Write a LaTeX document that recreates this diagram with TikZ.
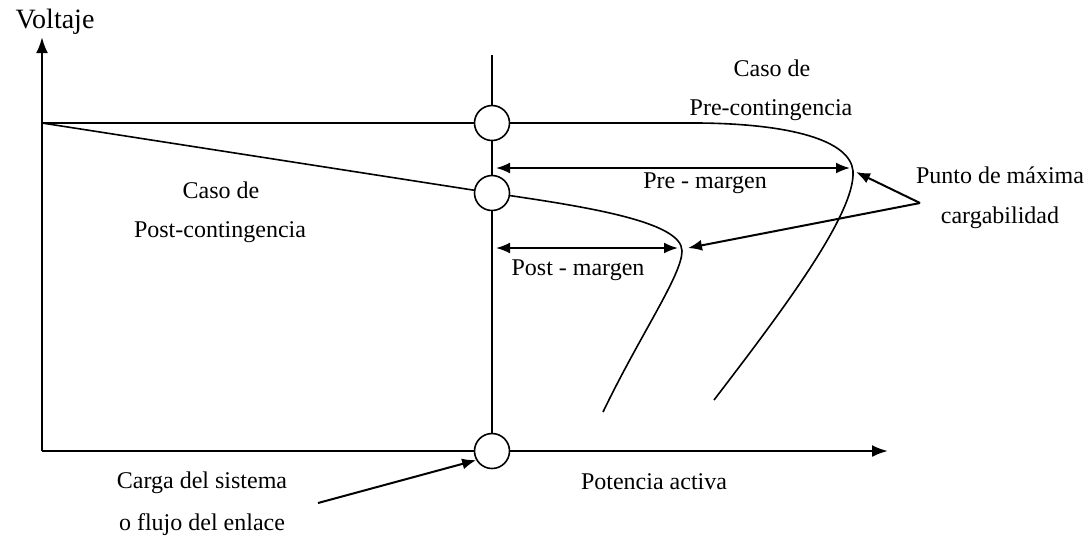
\documentclass[tikz,border=0pt]{standalone}
\usepackage{fontspec}
\setmainfont{Liberation Serif}
\usetikzlibrary{arrows.meta}
\begin{document}
\begin{tikzpicture}[x=0.5pt,y=-0.5pt,
  lbl/.style={font=\fontsize{12}{14}\selectfont, inner sep=0pt},
  ax/.style={line width=1.2pt},
  crv/.style={line width=0.8pt},
  tip/.style={line width=1pt,-{Latex[length=7pt,width=5.5pt]}},
  dtip/.style={line width=1pt,{Latex[length=7pt,width=5.5pt]}-{Latex[length=7pt,width=5.5pt]}},
  ring/.style={circle, draw, fill=white, line width=0.8pt, minimum size=17.5pt, inner sep=0pt}]
\useasboundingbox (0,0) rectangle (1090,538);
% key coordinates
\coordinate (O) at (42,451);
\coordinate (ytop) at (42,37);
\coordinate (xend) at (888,451);
\coordinate (vtop) at (492,55);
\coordinate (V0) at (42,123);
\coordinate (preflat) at (700,123);
\coordinate (prenose) at (853,171);
\coordinate (preend) at (714,400);
\coordinate (postnose) at (682,251);
\coordinate (postend) at (603,412);
\coordinate (pm1) at (496,168);
\coordinate (pm2) at (850,168);
\coordinate (qm1) at (496,248);
\coordinate (qm2) at (678,248);
\coordinate (ptr) at (920,203);
\coordinate (ptrA) at (856,172);
\coordinate (ptrB) at (688,248);
\coordinate (cs) at (318,503);
% axes
\draw[ax,-{Latex[length=8pt,width=6pt]}] (O) -- (ytop);
\draw[ax,-{Latex[length=8pt,width=6pt]}] (O) -- (xend);
\draw[ax] (vtop) -- (492,451);
% curves
\draw[crv] (V0) -- (preflat) .. controls (790,124) and (850,140) .. (prenose)
  .. controls (856,215) and (775,320) .. (preend);
\draw[crv] (V0) -- (492,193) .. controls (590,207) and (682,222) .. (postnose)
  .. controls (682,275) and (640,335) .. (postend);
% circles
\node[ring] (c1) at (492,123) {};
\node[ring] (c2) at (492,193) {};
\node[ring] (c3) at (492,451) {};
% margins
\draw[dtip] (pm1) -- (pm2);
\draw[dtip] (qm1) -- (qm2);
% pointers
\draw[tip] (ptr) -- (ptrA);
\draw[tip] (ptr) -- (ptrB);
\draw[tip] (cs) -- (c3.210);
% labels
\node[font=\fontsize{14}{16}\selectfont, inner sep=0pt] (tv) at (55,22) {Voltaje};
\node[lbl] (t1) at (772,68) {Caso de};
\node[lbl] (t2) at (771,110) {Pre-contingencia};
\node[lbl] (t3) at (705,183) {Pre - margen};
\node[lbl] (t4) at (1000,175) {Punto de máxima};
\node[lbl] (t5) at (1000,218) {cargabilidad};
\node[lbl] (t6) at (221,190) {Caso de};
\node[lbl] (t7) at (220,232) {Post-contingencia};
\node[lbl] (t8) at (578,270) {Post - margen};
\node[lbl] (t9) at (202,483) {Carga del sistema};
\node[lbl] (t10) at (202,525) {o flujo del enlace};
\node[lbl] (t11) at (654,482) {Potencia activa};
\end{tikzpicture}
\end{document}
